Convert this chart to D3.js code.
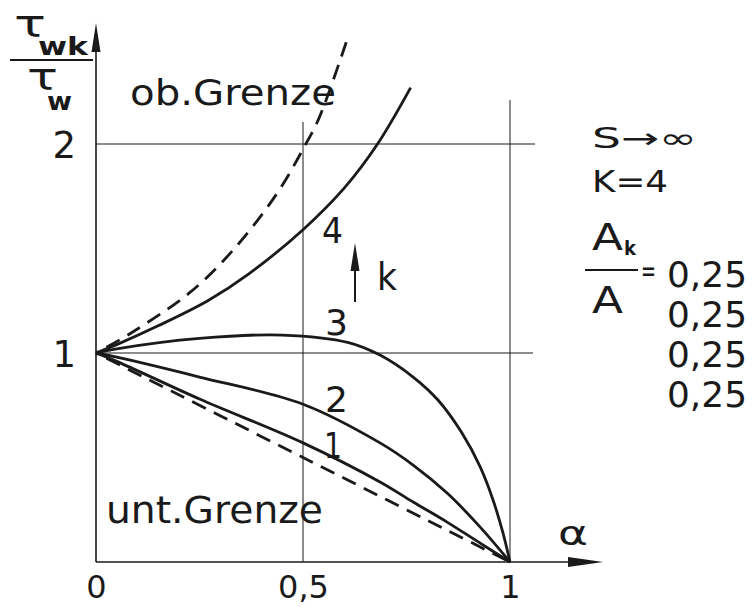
<!DOCTYPE html>
<html>
<head>
<meta charset="utf-8">
<script src="https://cdn.jsdelivr.net/npm/d3@7"></script>
<style>
  body { margin: 0; background: #fff; }
  svg { display: block; }
  text { font-family: "DejaVu Sans", sans-serif; fill: #1a1a1a; }
</style>
</head>
<body>
<div id="chart"></div>
<script>
//data
var alphaUpper = [0, 0.08, 0.227, 0.33, 0.436, 0.504, 0.54, 0.61],
    valsUpper  = [1, 1.09, 1.29, 1.49, 1.76, 1.99, 2.13, 2.52];

var alphaLower = [0, 0.5, 1],
    valsLower  = [1, 0.5, 0];

var alpha4 = [0, 0.05, 0.15, 0.27, 0.37, 0.5, 0.6, 0.68, 0.76],
    vals4  = [1, 1.04, 1.13, 1.25, 1.38, 1.59, 1.79, 2.0, 2.27];

var alpha3 = [0, 0.05, 0.25, 0.45, 0.61, 0.686, 0.766, 0.826, 0.884, 0.928, 0.959, 0.983, 1],
    vals3  = [1, 1.02, 1.07, 1.086, 1.05, 0.99, 0.885, 0.775, 0.617, 0.455, 0.297, 0.139, 0];

var alpha2 = [0, 0.05, 0.25, 0.5, 0.686, 0.766, 0.848, 0.928, 1],
    vals2  = [1, 0.98, 0.885, 0.755, 0.57, 0.464, 0.33, 0.167, 0];

var alpha1 = [0, 0.05, 0.25, 0.5, 0.686, 0.766, 0.848, 0.928, 1],
    vals1  = [1, 0.96, 0.78, 0.57, 0.383, 0.287, 0.191, 0.09, 0];

var xTicks = [0, 0.5, 1],
    xTickLabels = ['0', '0,5', '1'],
    yTicks = [1, 2],
    yTickLabels = ['1', '2'];

var areaRatios = ['0,25', '0,25', '0,25', '0,25'];

//sizes
var outerW = 752,
    outerH = 607;

var svg = d3.select('#chart').append('svg')
    .attr('width', outerW)
    .attr('height', outerH);

//scales
var xScale = d3.scaleLinear().domain([0, 1]).range([96, 510]),
    yScale = d3.scaleLinear().domain([0, 2]).range([562, 144]);

var ink = '#1a1a1a';

function zip(xs, ys) {
    return xs.map(function(d, i) { return [d, ys[i]]; });
}

var line = d3.line()
    .x(function(d) { return xScale(d[0]); })
    .y(function(d) { return yScale(d[1]); })
    .curve(d3.curveCatmullRom.alpha(0.5));

//grid
svg.selectAll('.grid-v')
    .data([0.5, 1])
    .enter()
    .append('line')
    .attr('class', 'grid-v')
    .attr('x1', function(d) { return xScale(d); })
    .attr('x2', function(d) { return xScale(d); })
    .attr('y1', function(d) { return d == 1 ? 100 : 122; })
    .attr('y2', yScale(0))
    .attr('stroke', ink)
    .attr('stroke-width', 1);

svg.selectAll('.grid-h')
    .data(yTicks)
    .enter()
    .append('line')
    .attr('class', 'grid-h')
    .attr('x1', xScale(0))
    .attr('x2', function(d) { return d == 2 ? 535 : 533; })
    .attr('y1', function(d) { return yScale(d); })
    .attr('y2', function(d) { return yScale(d); })
    .attr('stroke', ink)
    .attr('stroke-width', 1);

//axes with arrows
svg.append('line')
    .attr('x1', xScale(0)).attr('x2', 572)
    .attr('y1', yScale(0)).attr('y2', yScale(0))
    .attr('stroke', ink).attr('stroke-width', 1.6);
svg.append('path')
    .attr('d', 'M603,' + yScale(0) + ' L568,' + (yScale(0) - 5) + ' L568,' + (yScale(0) + 5) + ' Z')
    .attr('fill', ink);

svg.append('line')
    .attr('x1', xScale(0)).attr('x2', xScale(0))
    .attr('y1', yScale(0)).attr('y2', 48)
    .attr('stroke', ink).attr('stroke-width', 1.6);
svg.append('path')
    .attr('d', 'M' + xScale(0) + ',23 L' + (xScale(0) - 4.5) + ',52 L' + (xScale(0) + 4.5) + ',52 Z')
    .attr('fill', ink);

//tick labels
var xAxis = d3.axisBottom(xScale)
    .tickValues(xTicks)
    .tickSize(0)
    .tickFormat(function(d, i) { return xTickLabels[i]; });

var gx = svg.append('g')
    .attr('transform', 'translate(0,' + yScale(0) + ')')
    .call(xAxis);
gx.select('.domain').remove();
gx.selectAll('text')
    .attr('dy', null)
    .attr('y', 36)
    .style('font-family', '"DejaVu Sans", sans-serif')
    .style('font-size', '32px')
    .attr('fill', ink);

var yAxis = d3.axisLeft(yScale)
    .tickValues(yTicks)
    .tickSize(0)
    .tickFormat(function(d, i) { return yTickLabels[i]; });

var gy = svg.append('g')
    .attr('transform', 'translate(' + xScale(0) + ',0)')
    .call(yAxis);
gy.select('.domain').remove();
gy.selectAll('text')
    .attr('x', -20)
    .attr('dy', '0.36em')
    .style('font-family', '"DejaVu Sans", sans-serif')
    .style('font-size', '37px')
    .attr('fill', ink);

//curves
var curves = [
    { pts: zip(alphaUpper, valsUpper), dash: '15,9' },
    { pts: zip(alphaLower, valsLower), dash: '15,9' },
    { pts: zip(alpha4, vals4), dash: null },
    { pts: zip(alpha3, vals3), dash: null },
    { pts: zip(alpha2, vals2), dash: null },
    { pts: zip(alpha1, vals1), dash: null }
];

svg.selectAll('.curve')
    .data(curves)
    .enter()
    .append('path')
    .attr('class', 'curve')
    .attr('d', function(d) { return line(d.pts); })
    .attr('fill', 'none')
    .attr('stroke', ink)
    .attr('stroke-width', 2.8)
    .attr('stroke-dasharray', function(d) { return d.dash; })
    .attr('stroke-dashoffset', function(d) { return d.dash ? -12 : null; });

//text labels
function label(txt, x, y, size, w) {
    var t = svg.append('text')
        .attr('x', x)
        .attr('y', y)
        .style('font-size', size + 'px')
        .text(txt);
    if (w) {
        t.attr('textLength', w).attr('lengthAdjust', 'spacingAndGlyphs');
    }
    return t;
}

label('ob.Grenze', 130, 105, 35, 206);
label('unt.Grenze', 106, 523, 37, 217);

label('4', 322, 243, 36, 21);
label('3', 325, 335, 36, 23);
label('2', 325, 412, 36, 23);
label('1', 324, 458, 36, 18);
label('k', 377, 290, 37, 20);

svg.append('line')
    .attr('x1', 355).attr('x2', 355)
    .attr('y1', 302).attr('y2', 262)
    .attr('stroke', ink).attr('stroke-width', 2);
svg.append('path')
    .attr('d', 'M355,243 L350.5,271 L359.5,271 Z')
    .attr('fill', ink);

label('α', 558, 545, 34, 30);

//y axis label
label('τ', 14, 37, 38, 32);
label('wk', 38, 55, 24, 50).style('font-weight', 'bold');
svg.append('line')
    .attr('x1', 10).attr('x2', 93)
    .attr('y1', 60).attr('y2', 60)
    .attr('stroke', ink).attr('stroke-width', 2);
label('τ', 27, 90, 38, 31);
label('w', 47, 110, 24, 25).style('font-weight', 'bold');

//right side notes
label('S→∞', 592, 148, 28, 105);
label('K=4', 592, 192, 30, 76);
label('A', 592, 250, 38, 31);
label('k', 624, 255, 20, 12).style('font-weight', 'bold');
svg.append('line')
    .attr('x1', 585).attr('x2', 638)
    .attr('y1', 270).attr('y2', 270)
    .attr('stroke', ink).attr('stroke-width', 2);
label('=', 641, 281, 30, 15);
label('A', 592, 313, 38, 31);

svg.selectAll('.ratio')
    .data(areaRatios)
    .enter()
    .append('text')
    .attr('class', 'ratio')
    .attr('x', 667)
    .attr('y', function(d, i) { return 287 + i * 40; })
    .style('font-size', '36px')
    .attr('textLength', 80)
    .attr('lengthAdjust', 'spacingAndGlyphs')
    .text(function(d) { return d; });
</script>
</body>
</html>
